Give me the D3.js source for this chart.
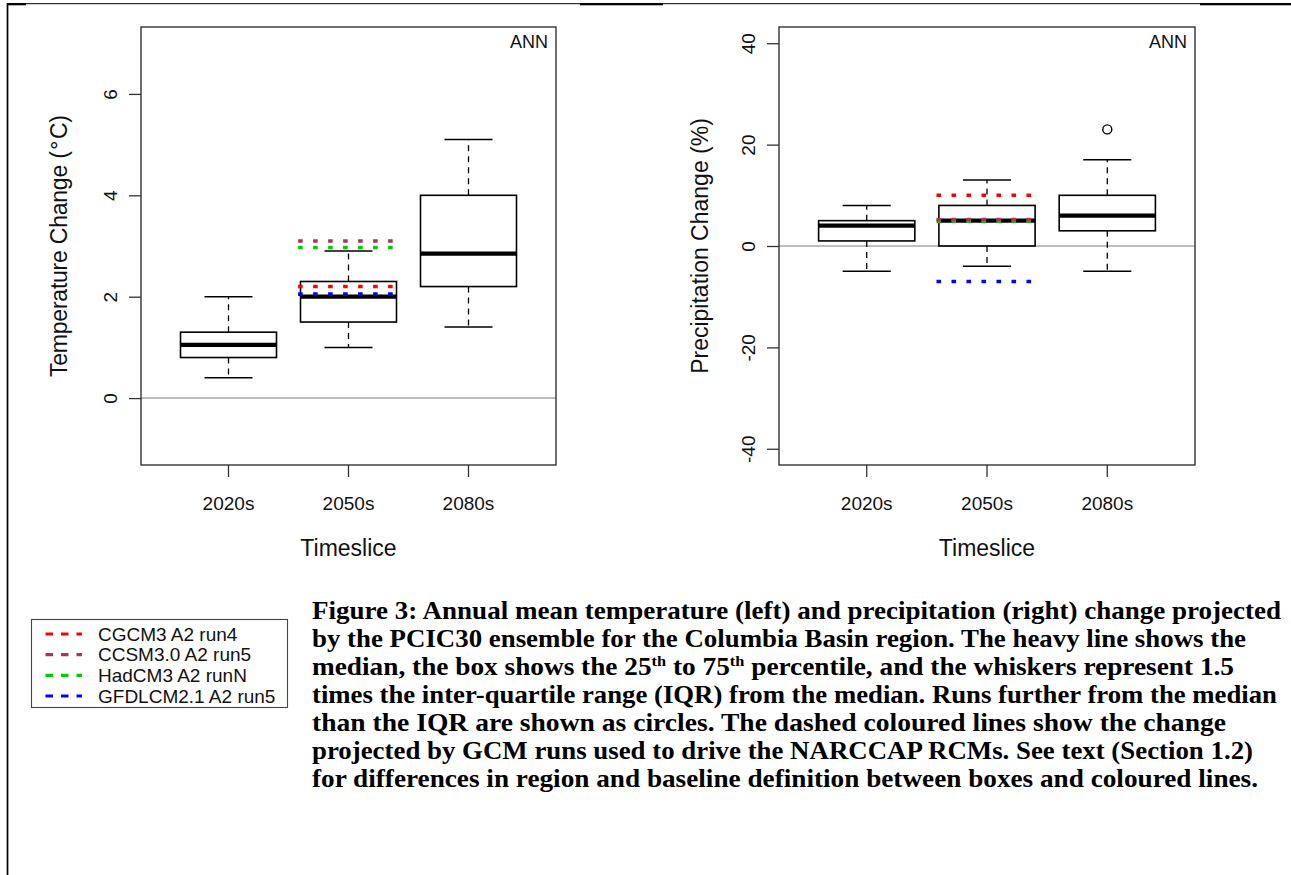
<!DOCTYPE html>
<html><head><meta charset="utf-8">
<script src="https://cdn.jsdelivr.net/npm/d3@7"></script>
<style>body{margin:0;background:#fff}svg{display:block}</style>
</head><body>
<script>
// ---------- data ----------
const categories = ["2020s", "2050s", "2080s"];
// temperature change (°C) box statistics
const tempLow  = [0.4, 1.0, 1.4];
const tempQ1   = [0.8, 1.5, 2.2];
const tempMed  = [1.05, 2.0, 2.85];
const tempQ3   = [1.3, 2.3, 4.0];
const tempHigh = [2.0, 2.9, 5.1];
const tempOutCat = [];
const tempOutVal = [];
// precipitation change (%) box statistics
const precLow  = [-5, -4, -5];
const precQ1   = [1, 0, 3];
const precMed  = [4, 5, 6];
const precQ3   = [5, 8, 10];
const precHigh = [8, 13, 17];
const precOutCat = ["2080s"];
const precOutVal = [23];
// GCM runs (dashed coloured lines at 2050s)
const gcmNames  = ["CGCM3 A2 run4", "CCSM3.0 A2 run5", "HadCM3 A2 runN", "GFDLCM2.1 A2 run5"];
const gcmColors = ["#ff0000", "#b03060", "#00cd00", "#0000ff"];
const gcmTemp   = [2.2, 3.1, 2.97, 2.05];
const gcmPrec   = [10, 5.2, 4.9, -7];
const gcmSlice  = "2050s";
const gcmDrawOrder = [2, 0, 1, 3];
const tempTicks = [0, 2, 4, 6];
const precTicks = [-40, -20, 0, 20, 40];
const captionLines = [
  ["Figure 3: Annual mean temperature (left) and precipitation (right) change projected"],
  ["by the PCIC30 ensemble for the Columbia Basin region. The heavy line shows the"],
  ["median, the box shows the 25", {sup: "th"}, " to 75", {sup: "th"}, " percentile, and the whiskers represent 1.5"],
  ["times the inter-quartile range (IQR) from the median. Runs further from the median"],
  ["than the IQR are shown as circles. The dashed coloured lines show the change"],
  ["projected by GCM runs used to drive the NARCCAP RCMs. See text (Section 1.2)"],
  ["for differences in region and baseline definition between boxes and coloured lines."]
];
const captionLineEnds = [1281, 1246, 1234, 1277, 1226, 1253, 1258];

// ---------- drawing ----------
const W = 1291, H = 875;
const SANS = "'Liberation Sans', Arial, Helvetica, sans-serif";
const svg = d3.select("body").append("svg").attr("width", W).attr("height", H);
svg.append("rect").attr("width", W).attr("height", H).attr("fill", "#fff");

// page border fragments
svg.append("line").attr("x1", 7.5).attr("x2", 7.5).attr("y1", 3).attr("y2", H)
  .attr("stroke", "#000").attr("stroke-width", 1.7);
svg.append("line").attr("x1", 7).attr("x2", W).attr("y1", 3.7).attr("y2", 3.7)
  .attr("stroke", "#000").attr("stroke-width", 1);
[[7, 26], [580, 663], [1200, 1291]].forEach(([a, b]) =>
  svg.append("rect").attr("x", a).attr("y", 3).attr("width", b - a).attr("height", 2.3).attr("fill", "#000"));

function panel(o) {
  const g = svg.append("g");
  const xs = d3.scaleBand().domain(categories).range([o.left, o.right])
    .paddingInner(0.2).paddingOuter(0.3292);
  const ys = d3.scaleLinear().domain(o.yDomain).range([o.bottom, o.top]);
  const bw = xs.bandwidth();
  const cx = c => xs(c) + bw / 2;

  // zero line
  g.append("line").attr("x1", o.left).attr("x2", o.right)
    .attr("y1", ys(0)).attr("y2", ys(0)).attr("stroke", "#bebebe").attr("stroke-width", 2);

  const rows = categories.map((c, i) => ({c, lo: o.low[i], q1: o.q1[i], md: o.med[i], q3: o.q3[i], hi: o.high[i]}));
  const bx = g.selectAll("g.bx").data(rows).join("g").attr("class", "bx");
  // whiskers
  bx.append("line").attr("x1", d => cx(d.c)).attr("x2", d => cx(d.c))
    .attr("y1", d => ys(d.q3)).attr("y2", d => ys(d.hi))
    .attr("stroke", "#000").attr("stroke-width", 1.3).attr("stroke-dasharray", "6,5");
  bx.append("line").attr("x1", d => cx(d.c)).attr("x2", d => cx(d.c))
    .attr("y1", d => ys(d.q1)).attr("y2", d => ys(d.lo))
    .attr("stroke", "#000").attr("stroke-width", 1.3).attr("stroke-dasharray", "6,5");
  // staples
  ["lo", "hi"].forEach(k => bx.append("line")
    .attr("x1", d => cx(d.c) - bw / 4).attr("x2", d => cx(d.c) + bw / 4)
    .attr("y1", d => ys(d[k])).attr("y2", d => ys(d[k]))
    .attr("stroke", "#000").attr("stroke-width", 1.5));
  // box
  bx.append("rect").attr("x", d => xs(d.c)).attr("width", bw)
    .attr("y", d => ys(d.q3)).attr("height", d => ys(d.q1) - ys(d.q3))
    .attr("fill", "none").attr("stroke", "#000").attr("stroke-width", 1.6);
  // median
  bx.append("line").attr("x1", d => xs(d.c)).attr("x2", d => xs(d.c) + bw)
    .attr("y1", d => ys(d.md)).attr("y2", d => ys(d.md))
    .attr("stroke", "#000").attr("stroke-width", 4.2);
  // outliers
  g.selectAll("circle.out").data(o.outCat.map((c, i) => ({c, v: o.outVal[i]}))).join("circle")
    .attr("cx", d => cx(d.c)).attr("cy", d => ys(d.v)).attr("r", 4.5)
    .attr("fill", "none").attr("stroke", "#000").attr("stroke-width", 1.4);
  // GCM lines
  const half = xs.step() * 0.42;
  gcmDrawOrder.forEach(i => {
    g.append("line").attr("x1", cx(gcmSlice) - half).attr("x2", cx(gcmSlice) + half)
      .attr("y1", ys(o.gcm[i])).attr("y2", ys(o.gcm[i]))
      .attr("stroke", gcmColors[i]).attr("stroke-width", 3.6).attr("stroke-dasharray", "4.6,10.4");
  });

  // frame
  g.append("rect").attr("x", o.left).attr("y", o.top).attr("width", o.right - o.left)
    .attr("height", o.bottom - o.top).attr("fill", "none").attr("stroke", "#333").attr("stroke-width", 1.4);

  // y axis
  const ya = g.append("g").attr("transform", `translate(${o.left},0)`)
    .call(d3.axisLeft(ys).tickValues(o.yTicks).tickSize(12).tickFormat(d3.format("d")));
  ya.select(".domain").remove();
  ya.selectAll(".tick line").attr("stroke", "#333").attr("stroke-width", 1.3);
  ya.selectAll(".tick text").attr("x", null).attr("dy", null)
    .attr("transform", "translate(-24,0) rotate(-90)").attr("text-anchor", "middle")
    .attr("font-family", SANS).attr("font-size", 19).attr("fill", "#111")
    .text(d => d < 0 ? "-" + Math.abs(d) : String(d));
  // x axis
  const xa = g.append("g").attr("transform", `translate(0,${o.bottom})`)
    .call(d3.axisBottom(xs).tickSize(12).tickSizeOuter(0));
  xa.select(".domain").remove();
  xa.selectAll(".tick line").attr("stroke", "#333").attr("stroke-width", 1.3);
  xa.selectAll(".tick text").attr("y", 45).attr("dy", null)
    .attr("font-family", SANS).attr("font-size", 19).attr("fill", "#111");

  // titles
  g.append("text").attr("x", (o.left + o.right) / 2).attr("y", 556).attr("text-anchor", "middle")
    .attr("font-family", SANS).attr("font-size", 23).attr("fill", "#111").text("Timeslice");
  const yt = g.append("text").attr("transform", `translate(${o.left - o.titleOff},${(o.top + o.bottom) / 2}) rotate(-90)`)
    .attr("text-anchor", "middle").attr("font-family", SANS).attr("font-size", 23).attr("fill", "#111")
    .text(o.yTitle);
  if (o.titleLen) yt.attr("textLength", o.titleLen).attr("lengthAdjust", "spacing");
  g.append("text").attr("x", o.right - 8).attr("y", 47.5).attr("text-anchor", "end")
    .attr("font-family", SANS).attr("font-size", 18).attr("fill", "#111").text("ANN");
}

panel({left: 141, right: 556, top: 27, bottom: 465, yDomain: [-1.32, 7.32], yTicks: tempTicks,
  low: tempLow, q1: tempQ1, med: tempMed, q3: tempQ3, high: tempHigh,
  outCat: tempOutCat, outVal: tempOutVal, gcm: gcmTemp,
  yTitle: "Temperature Change (\u200A°\u200AC)", titleOff: 74, titleLen: 262});
panel({left: 779, right: 1195, top: 27, bottom: 465, yDomain: [-43.2, 43.2], yTicks: precTicks,
  low: precLow, q1: precQ1, med: precMed, q3: precQ3, high: precHigh,
  outCat: precOutCat, outVal: precOutVal, gcm: gcmPrec,
  yTitle: "Precipitation Change (%)", titleOff: 71});

// legend
const lg = svg.append("g");
lg.append("rect").attr("x", 31.5).attr("y", 619.5).attr("width", 256).attr("height", 88)
  .attr("fill", "#fff").attr("stroke", "#444").attr("stroke-width", 1.1);
const ly = d3.scaleLinear().domain([0, 3]).range([634, 696]);
gcmNames.forEach((n, i) => {
  lg.append("line").attr("x1", 45.5).attr("x2", 82).attr("y1", ly(i)).attr("y2", ly(i))
    .attr("stroke", gcmColors[i]).attr("stroke-width", 3.2).attr("stroke-dasharray", "7.5,8");
  lg.append("text").attr("x", 98).attr("y", ly(i) + 6.6).attr("font-family", SANS)
    .attr("font-size", 19).attr("fill", "#111").text(n);
});

// caption
const cap = svg.append("g");
captionLines.forEach((segs, i) => {
  const t = cap.append("text").attr("x", 312).attr("y", 619 + i * 28)
    .attr("font-family", "'Liberation Serif', 'Times New Roman', serif").attr("font-weight", "bold")
    .attr("font-size", 25).attr("fill", "#000");
  let raised = false;
  segs.forEach(s => {
    if (typeof s === "string") {
      t.append("tspan").attr("dy", raised ? 9 : null).text(s); raised = false;
    } else {
      t.append("tspan").attr("dy", -9).attr("font-size", 15).text(s.sup); raised = true;
    }
  });
  t.attr("textLength", captionLineEnds[i] - 312).attr("lengthAdjust", "spacingAndGlyphs");
});
</script>
</body></html>
